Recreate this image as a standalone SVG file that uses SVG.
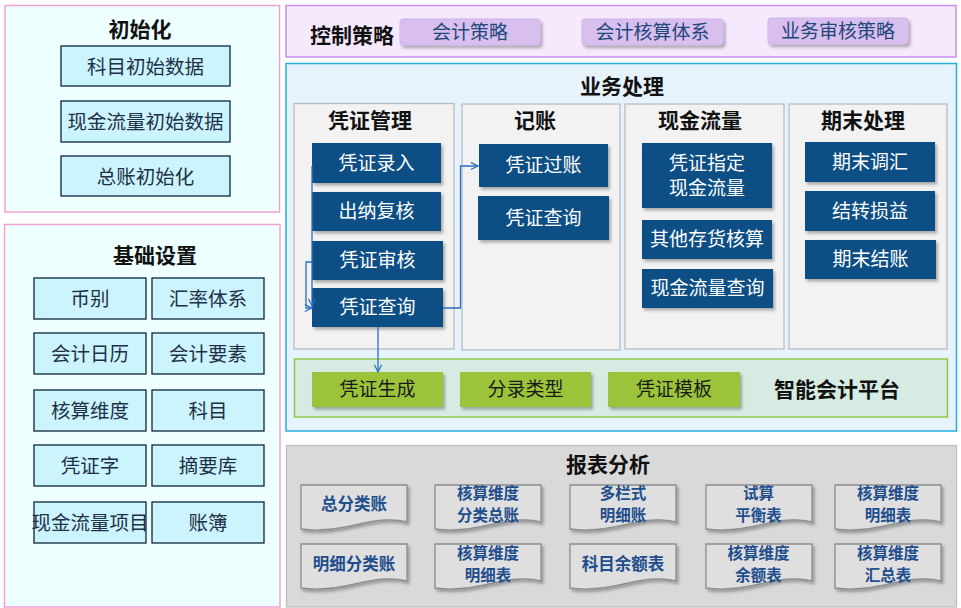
<svg xmlns="http://www.w3.org/2000/svg" width="961" height="608" viewBox="0 0 961 608">
<defs>
<style>
text{font-family:"Microsoft YaHei","Noto Sans CJK SC","Noto Sans",sans-serif;text-anchor:middle;dominant-baseline:central;transform:translate(0px,-2px)}
.title{font-size:21px;font-weight:bold;fill:#111}
.lbox{fill:#ccf4fd;stroke:#0d2540;stroke-width:1.3}
.lt{font-size:19.5px;fill:#1d3048}
.cbox{fill:#d9bfee;stroke:#cfb3ea;stroke-width:1}
.ct{font-size:19px;fill:#21477a}
.sub{fill:#f2f2f2;stroke:#b8bcc4;stroke-width:1.3}
.dbox{fill:#0c4f84}
.dt{font-size:19px;fill:#fff}
.gbox{fill:#9cc43b}
.gt{font-size:19px;fill:#1a1a1a}
.doc{fill:#dfdfdf;stroke:#8c8c8c;stroke-width:1.3}
.dct{font-size:16.5px;font-weight:bold;fill:#1f4e8c}
.d2{font-size:15.5px}
.conn{fill:none;stroke:#2a6fc0;stroke-width:1.3}
</style>
<filter id="sh" x="-10%" y="-10%" width="125%" height="135%">
<feDropShadow dx="2" dy="2.5" stdDeviation="1.5" flood-color="#000" flood-opacity="0.3"/>
</filter>
<marker id="arr" viewBox="0 0 10 10" refX="9" refY="5" markerWidth="9" markerHeight="9" markerUnits="userSpaceOnUse" orient="auto">
<path d="M1,1 L9,5 L1,9" fill="none" stroke="#2a6fc0" stroke-width="1.3"/>
</marker>
<path id="docshape" d="M0,0 H106 V37 C72,28 42,50 0,44 Z"/>
</defs>

<!-- 初始化 -->
<g id="init">
<rect x="5" y="5.5" width="274.5" height="206.5" fill="#eeffff" stroke="#f2a2d2" stroke-width="1.5"/>
<text class="title" x="140" y="30">初始化</text>
<g id="init-1"><rect class="lbox" x="61" y="46" width="169" height="40"/><text class="lt" x="145.5" y="67" font-size="20">科目初始数据</text></g>
<g id="init-2"><rect class="lbox" x="61" y="101" width="169" height="41"/><text class="lt" x="145.5" y="122">现金流量初始数据</text></g>
<g id="init-3"><rect class="lbox" x="61" y="156" width="169" height="40"/><text class="lt" x="145.5" y="177">总账初始化</text></g>
</g>

<!-- 基础设置 -->
<g id="basic">
<rect x="4.5" y="224.5" width="275.5" height="382.5" fill="#eeffff" stroke="#f2a2d2" stroke-width="1.5"/>
<text class="title" x="155" y="256">基础设置</text>
<g id="b1"><rect class="lbox" x="34" y="278" width="112" height="41"/><text class="lt" x="90" y="299">币别</text></g>
<g id="b2"><rect class="lbox" x="152" y="278" width="112" height="41"/><text class="lt" x="208" y="299">汇率体系</text></g>
<g id="b3"><rect class="lbox" x="34" y="333" width="112" height="41"/><text class="lt" x="90" y="354">会计日历</text></g>
<g id="b4"><rect class="lbox" x="152" y="333" width="112" height="41"/><text class="lt" x="208" y="354">会计要素</text></g>
<g id="b5"><rect class="lbox" x="34" y="390" width="112" height="41"/><text class="lt" x="90" y="411">核算维度</text></g>
<g id="b6"><rect class="lbox" x="152" y="390" width="112" height="41"/><text class="lt" x="208" y="411">科目</text></g>
<g id="b7"><rect class="lbox" x="34" y="445" width="112" height="41"/><text class="lt" x="90" y="466">凭证字</text></g>
<g id="b8"><rect class="lbox" x="152" y="445" width="112" height="41"/><text class="lt" x="208" y="466">摘要库</text></g>
<g id="b9"><rect class="lbox" x="34" y="502" width="112" height="41"/><text class="lt" x="90" y="523" font-size="16.5">现金流量项目</text></g>
<g id="b10"><rect class="lbox" x="152" y="502" width="112" height="41"/><text class="lt" x="208" y="523">账簿</text></g>
</g>

<!-- 控制策略 -->
<g id="control">
<rect x="286" y="5.5" width="670" height="51.5" fill="#f5e9fd" stroke="#c78ef0" stroke-width="1.5"/>
<text class="title" x="352" y="36" font-size="20">控制策略</text>
<g id="c1"><rect class="cbox" x="400" y="19" width="140" height="26" rx="3" filter="url(#sh)"/><text class="ct" x="470" y="32">会计策略</text></g>
<g id="c2"><rect class="cbox" x="582" y="19" width="141" height="26" rx="3" filter="url(#sh)"/><text class="ct" x="652.5" y="32">会计核算体系</text></g>
<g id="c3"><rect class="cbox" x="768" y="18" width="140" height="26" rx="3" filter="url(#sh)"/><text class="ct" x="838" y="31">业务审核策略</text></g>
</g>

<!-- 业务处理 -->
<g id="business">
<rect x="286" y="63.5" width="670.5" height="367.5" fill="#e7f3fc" stroke="#22aee0" stroke-width="1.5"/>
<text class="title" x="622" y="87">业务处理</text>
</g>

<g id="voucher-mgmt">
<rect class="sub" x="294" y="103.5" width="160" height="245.5"/>
<text class="title" x="370" y="121" font-size="20">凭证管理</text>
<g id="v1"><rect class="dbox" x="312" y="143" width="129" height="40" filter="url(#sh)"/><text class="dt" x="376.5" y="163" font-size="17">凭证录入</text></g>
<g id="v2"><rect class="dbox" x="312" y="192" width="129" height="39" filter="url(#sh)"/><text class="dt" x="376.5" y="211.5">出纳复核</text></g>
<g id="v3"><rect class="dbox" x="312" y="241" width="131" height="39" filter="url(#sh)"/><text class="dt" x="377.5" y="260.5">凭证审核</text></g>
<g id="v4"><rect class="dbox" x="312" y="288" width="131" height="39" filter="url(#sh)"/><text class="dt" x="377.5" y="307.5">凭证查询</text></g>
</g>

<g id="posting">
<rect class="sub" x="462" y="104" width="158" height="246"/>
<text class="title" x="535" y="121" font-size="20">记账</text>
<g id="p1"><rect class="dbox" x="479" y="144" width="129" height="43" filter="url(#sh)"/><text class="dt" x="543.5" y="165.5">凭证过账</text></g>
<g id="p2"><rect class="dbox" x="478" y="196" width="131" height="44" filter="url(#sh)"/><text class="dt" x="543.5" y="218">凭证查询</text></g>
</g>

<g id="cashflow">
<rect class="sub" x="625" y="104" width="159" height="245"/>
<text class="title" x="700" y="121" font-size="20">现金流量</text>
<g id="f1"><rect class="dbox" x="642" y="143" width="130" height="65" filter="url(#sh)"/><text class="dt" x="707" y="163" font-size="17.5">凭证指定<tspan x="707" dy="25">现金流量</tspan></text></g>
<g id="f2"><rect class="dbox" x="642" y="220" width="130" height="39" filter="url(#sh)"/><text class="dt" x="707" y="239.5">其他存货核算</text></g>
<g id="f3"><rect class="dbox" x="642" y="269" width="131" height="39" filter="url(#sh)"/><text class="dt" x="707.5" y="288.5">现金流量查询</text></g>
</g>

<g id="period-end">
<rect class="sub" x="789" y="104" width="158" height="245"/>
<text class="title" x="863" y="121" font-size="20">期末处理</text>
<g id="e1"><rect class="dbox" x="805" y="142" width="130" height="40" filter="url(#sh)"/><text class="dt" x="870" y="162" font-size="17">期末调汇</text></g>
<g id="e2"><rect class="dbox" x="805" y="191" width="130" height="40" filter="url(#sh)"/><text class="dt" x="870" y="211">结转损益</text></g>
<g id="e3"><rect class="dbox" x="805" y="240" width="131" height="39" filter="url(#sh)"/><text class="dt" x="870.5" y="259.5">期末结账</text></g>
</g>

<g id="smart">
<rect x="294.5" y="359" width="653" height="58" fill="#d6ece3" stroke="#8cc63f" stroke-width="1.4"/>
<g id="s1"><rect class="gbox" x="312" y="372" width="131" height="35" filter="url(#sh)"/><text class="gt" x="377.5" y="389.5">凭证生成</text></g>
<g id="s2"><rect class="gbox" x="460" y="372" width="131" height="35" filter="url(#sh)"/><text class="gt" x="525.5" y="389.5">分录类型</text></g>
<g id="s3"><rect class="gbox" x="608" y="372" width="132" height="35" filter="url(#sh)"/><text class="gt" x="674" y="389.5">凭证模板</text></g>
<text class="title" x="837" y="390" font-size="20">智能会计平台</text>
</g>

<!-- 连接线 -->
<g id="connectors">
<path class="conn" d="M312,166 V306" marker-end="url(#arr)"/>
<path class="conn" d="M312,262 H306 V308 H312" marker-end="url(#arr)"/>
<path class="conn" d="M443,308 H460.5 V166 H478" marker-end="url(#arr)"/>
<path class="conn" d="M378,327 V372" marker-end="url(#arr)"/>
</g>

<!-- 报表分析 -->
<g id="reports">
<rect x="286.5" y="445.5" width="670" height="161.5" fill="#d9d9d9" stroke="#bfbfbf" stroke-width="1.3"/>
<text class="title" x="608" y="465">报表分析</text>
</g>
<g id="r1"><use href="#docshape" class="doc" x="301" y="485" filter="url(#sh)"/><text class="dct" x="354" y="505">总分类账</text></g>
<g id="r2"><use href="#docshape" class="doc" x="435" y="485" filter="url(#sh)"/><text class="dct d2" x="488" y="494">核算维度<tspan x="488" dy="22">分类总账</tspan></text></g>
<g id="r3"><use href="#docshape" class="doc" x="570" y="485" filter="url(#sh)"/><text class="dct d2" x="623" y="494">多栏式<tspan x="623" dy="22">明细账</tspan></text></g>
<g id="r4"><use href="#docshape" class="doc" x="706" y="485" filter="url(#sh)"/><text class="dct d2" x="758.5" y="494">试算<tspan x="758.5" dy="22">平衡表</tspan></text></g>
<g id="r5"><use href="#docshape" class="doc" x="835" y="485" filter="url(#sh)"/><text class="dct d2" x="888" y="494">核算维度<tspan x="888" dy="22">明细表</tspan></text></g>
<g id="r6"><use href="#docshape" class="doc" x="301" y="544" filter="url(#sh)"/><text class="dct" x="354" y="565">明细分类账</text></g>
<g id="r7"><use href="#docshape" class="doc" x="435" y="544" filter="url(#sh)"/><text class="dct d2" x="488" y="554">核算维度<tspan x="488" dy="22">明细表</tspan></text></g>
<g id="r8"><use href="#docshape" class="doc" x="570" y="544" filter="url(#sh)"/><text class="dct" x="623" y="565">科目余额表</text></g>
<g id="r9"><use href="#docshape" class="doc" x="706" y="544" filter="url(#sh)"/><text class="dct d2" x="758.5" y="554">核算维度<tspan x="758.5" dy="22">余额表</tspan></text></g>
<g id="r10"><use href="#docshape" class="doc" x="835" y="544" filter="url(#sh)"/><text class="dct d2" x="888" y="554">核算维度<tspan x="888" dy="22">汇总表</tspan></text></g>
</svg>
